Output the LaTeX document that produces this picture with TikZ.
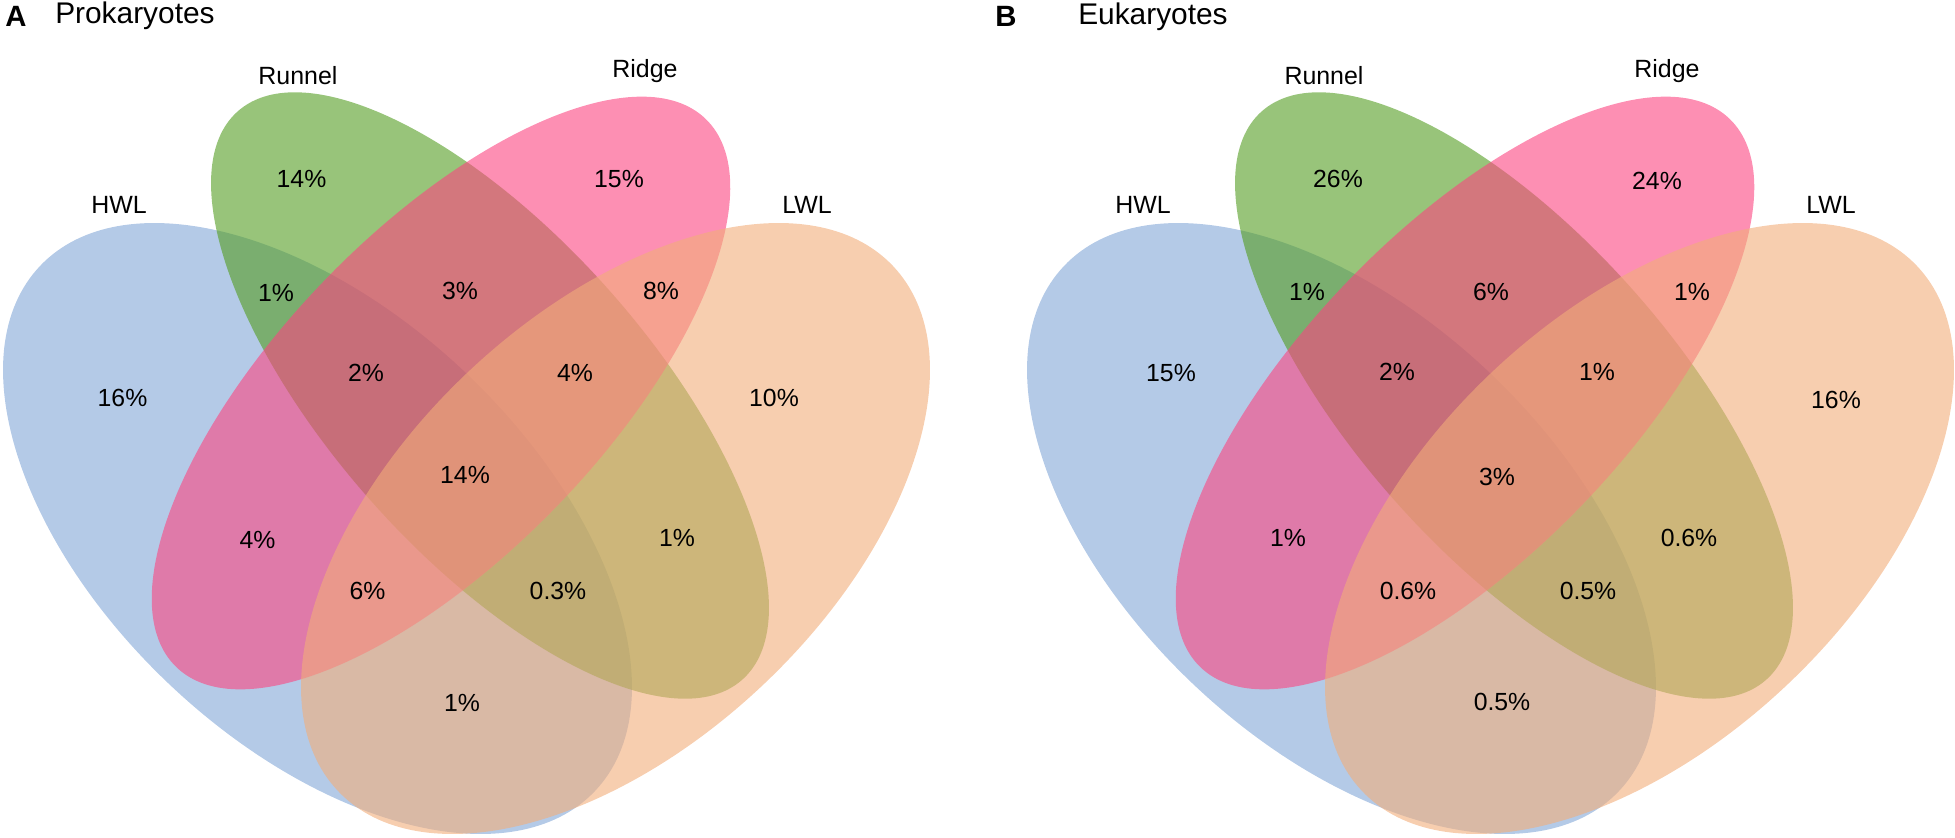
\documentclass[tikz,border=0pt]{standalone}
\usepackage{fontspec}
\setmainfont{Liberation Sans}
\definecolor{hwlc}{RGB}{130,167,215}
\definecolor{runnelc}{RGB}{83,157,33}
\definecolor{ridgec}{RGB}{252,68,128}
\definecolor{lwlc}{RGB}{242,173,122}
\begin{document}
\begin{tikzpicture}[x=0.75pt,y=-0.75pt,
  venn/.style={fill opacity=0.6},
  pct/.style={inner sep=0pt, font=\fontsize{18.6}{20}\selectfont},
  setname/.style={inner sep=0pt, anchor=base, font=\fontsize{18.7}{20}\selectfont},
  paneltitle/.style={inner sep=0pt, anchor=base west, font=\fontsize{22.4}{24}\selectfont},
  panelletter/.style={inner sep=0pt, anchor=base west, font=\fontsize{22}{24}\selectfont\bfseries}]
\useasboundingbox (0,0) rectangle (1955,838);
% ellipses for both panels
\foreach \dx in {0,1024} {
  \begin{scope}[shift={(\dx,0)}]
    \fill[hwlc, venn, shift={(317.5,528.5)}, rotate=-43.4] (0,0) ellipse [x radius=382, y radius=215];
    \fill[runnelc, venn, shift={(490,395.5)}, rotate=-48.4] (0,0) ellipse [x radius=380, y radius=159];
    \fill[ridgec, venn, shift={(441,393)}, rotate=46] (0,0) ellipse [x radius=381, y radius=162];
    \fill[lwlc, venn, shift={(615.5,528.5)}, rotate=43.4] (0,0) ellipse [x radius=382, y radius=215];
  \end{scope}
}
% Panel A
\node[panelletter] (la) at (5,26.5) {A};
\node[paneltitle] (ta) at (55,24) {Prokaryotes};
\node[setname] (ahwl) at (119,213) {HWL};
\node[setname] (arun) at (298,85) {Runnel};
\node[setname] (arid) at (645,78) {Ridge};
\node[setname] (alwl) at (807,213) {LWL};
\node[pct] (a0100) at (301.5,179) {14\%};
\node[pct] (a0010) at (619,179) {15\%};
\node[pct] (a1100) at (276,293) {1\%};
\node[pct] (a0110) at (460,291) {3\%};
\node[pct] (a0011) at (661,291) {8\%};
\node[pct] (a1000) at (122.5,398) {16\%};
\node[pct] (a1110) at (366,373) {2\%};
\node[pct] (a0111) at (575,373) {4\%};
\node[pct] (a0001) at (774,398) {10\%};
\node[pct] (a1111) at (465,475) {14\%};
\node[pct] (a1010) at (257.5,540) {4\%};
\node[pct] (a0101) at (677,538) {1\%};
\node[pct] (a1011) at (367.5,591) {6\%};
\node[pct] (a1101) at (558,591) {0.3\%};
\node[pct] (a1001) at (462,703) {1\%};
% Panel B
\node[panelletter] (lb) at (995,26.5) {B};
\node[paneltitle] (tb) at (1078,25) {Eukaryotes};
\node[setname] (bhwl) at (1143,213) {HWL};
\node[setname] (brun) at (1324,85) {Runnel};
\node[setname] (brid) at (1667,78) {Ridge};
\node[setname] (blwl) at (1831,213) {LWL};
\node[pct] (b0100) at (1338,179) {26\%};
\node[pct] (b0010) at (1657,181) {24\%};
\node[pct] (b1100) at (1307,292) {1\%};
\node[pct] (b0110) at (1491,292) {6\%};
\node[pct] (b0011) at (1692,292) {1\%};
\node[pct] (b1000) at (1171,373) {15\%};
\node[pct] (b1110) at (1397,372) {2\%};
\node[pct] (b0111) at (1597,372) {1\%};
\node[pct] (b0001) at (1836,400) {16\%};
\node[pct] (b1111) at (1497,477) {3\%};
\node[pct] (b1010) at (1288,538) {1\%};
\node[pct] (b0101) at (1689,538) {0.6\%};
\node[pct] (b1011) at (1408,591) {0.6\%};
\node[pct] (b1101) at (1588,591) {0.5\%};
\node[pct] (b1001) at (1502,702) {0.5\%};
\end{tikzpicture}
\end{document}
